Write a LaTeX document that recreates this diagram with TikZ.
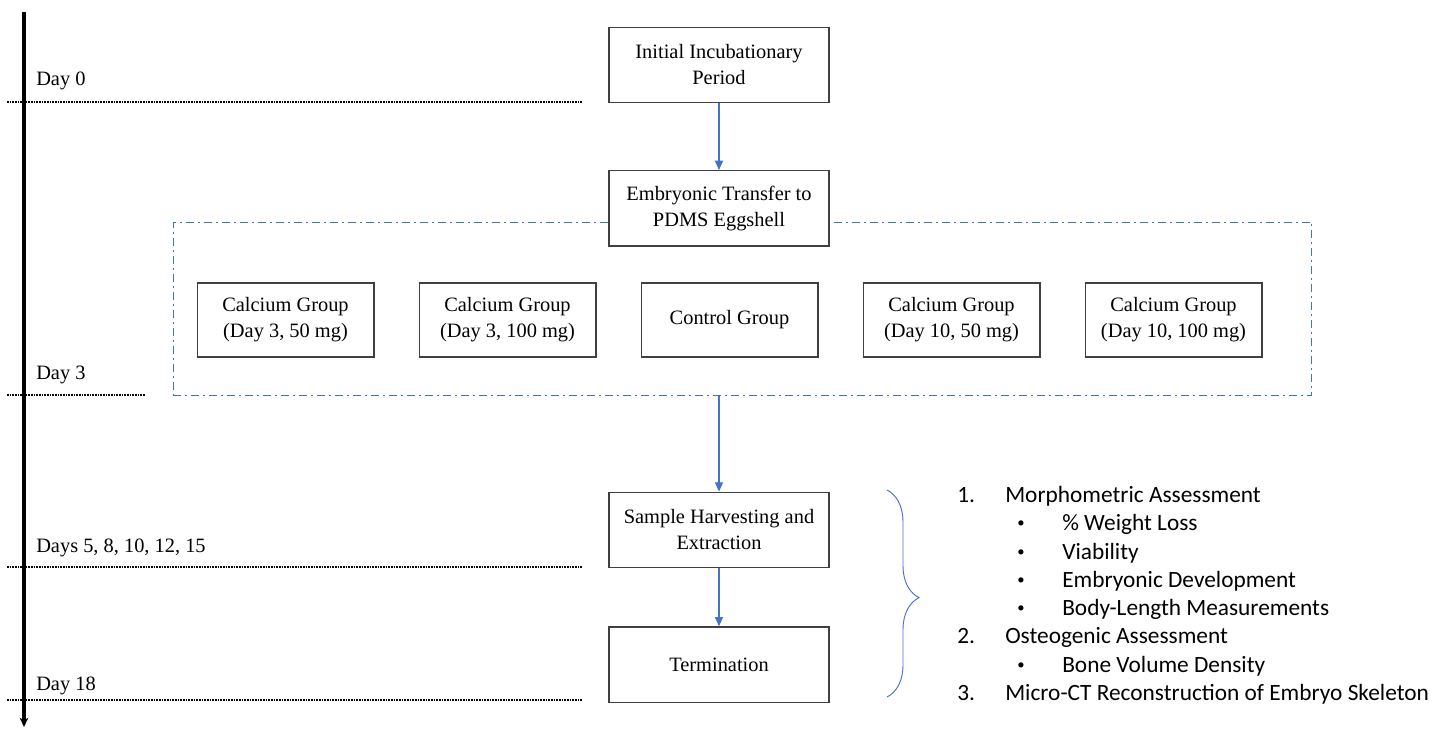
\documentclass[tikz,border=0pt]{standalone}
\usepackage{fontspec}
\setmainfont{Liberation Serif}
\newfontfamily\listfont{Carlito}
\usetikzlibrary{positioning,arrows.meta,decorations.pathreplacing}
\definecolor{flowblue}{HTML}{4472C4}

\begin{document}
\begin{tikzpicture}[x=0.75pt,y=-0.75pt,
	stagebox/.style={draw=black!75,line width=1pt,fill=white,minimum width=165pt,minimum height=56.5pt,align=center,font=\fontsize{15.3}{19.5}\selectfont},
	groupbox/.style={stagebox,minimum width=132.5pt,minimum height=55.5pt},
	grpframe/.style={draw=flowblue,line width=0.7pt,dash pattern=on 6pt off 3pt on 1.5pt off 3pt,minimum width=854pt,minimum height=129.75pt,inner sep=0pt},
	flow/.style={-{Triangle[length=7pt,width=6pt]},flowblue,line width=0.8pt},
	dayline/.style={line width=1.3pt,dash pattern=on 1.2pt off 0.8pt},
	daylabel/.style={anchor=base west,inner sep=0pt,font=\fontsize{15.3}{18}\selectfont},
	listitem/.style={anchor=base west,inner sep=0pt,font=\listfont\fontsize{17.5}{20}\selectfont},
	bulletitem/.style={listitem,font=\listfont\fontsize{11}{12}\selectfont}]
	\useasboundingbox (0,0) rectangle (1432,729);

	% time axis
	\coordinate (axtop) at (24,12);
	\coordinate (axbot) at (24,727);
	\draw[line width=2.6pt,-{Stealth[length=7pt,width=6.5pt]}] (axtop) -- (axbot);
	\foreach \y/\xe in {102/582, 395/145, 567/582, 700/582}
		\draw[dayline] (7,\y) -- (\xe,\y);

	\node[daylabel] (d0)  at (36,85)  {Day 0};
	\node[daylabel] (d3)  at (36,379) {Day 3};
	\node[daylabel] (d5)  at (36,552) {Days 5, 8, 10, 12, 15};
	\node[daylabel] (d18) at (36,690) {Day 18};

	% groups
	\node[grpframe] (frame) at (742.5,308.5) {};
	\node[groupbox] (g1) at (285.5,320) {Calcium Group\\(Day 3, 50 mg)};
	\node[groupbox,right=33pt of g1] (g2) {Calcium Group\\(Day 3, 100 mg)};
	\node[groupbox,right=33pt of g2] (g3) {Control Group};
	\node[groupbox,right=33pt of g3] (g4) {Calcium Group\\(Day 10, 50 mg)};
	\node[groupbox,right=33pt of g4] (g5) {Calcium Group\\(Day 10, 100 mg)};

	% stages
	\node[stagebox] (init) at (719,65) {Initial Incubationary\\Period};
	\node[stagebox,below=50pt of init] (transfer) {Embryonic Transfer to\\PDMS Eggshell};
	\node[stagebox] (harvest) at (719,530) {Sample Harvesting and\\Extraction};
	\node[stagebox,below=43.5pt of harvest] (term) {Termination};

	\draw[flow] (init) -- (transfer);
	\draw[flow] (frame.south -| harvest.north) -- (harvest);
	\draw[flow] (harvest) -- (term);

	% assessments
	\coordinate (brtop) at (887,490);
	\coordinate (brbot) at (887,697);
	\draw[flowblue,line width=0.7pt,decorate,decoration={brace,amplitude=24pt,aspect=0.52}] (brtop) -- (brbot);

	\node[listitem] (n1) at (957,502) {1.};
	\node[listitem] (t1) at (1005,502) {Morphometric Assessment};
	\node[bulletitem] (b1) at (1017,527.5) {•};
	\node[listitem] (s1) at (1062,530.5) {\% Weight Loss};
	\node[bulletitem] (b2) at (1017,556) {•};
	\node[listitem] (s2) at (1062,559) {Viability};
	\node[bulletitem] (b3) at (1017,584) {•};
	\node[listitem] (s3) at (1062,587) {Embryonic Development};
	\node[bulletitem] (b4) at (1017,612.5) {•};
	\node[listitem] (s4) at (1062,615.5) {Body-Length Measurements};
	\node[listitem] (n2) at (957,643.5) {2.};
	\node[listitem] (t2) at (1005,643.5) {Osteogenic Assessment};
	\node[bulletitem] (b5) at (1017,669) {•};
	\node[listitem] (s5) at (1062,672) {Bone Volume Density};
	\node[listitem] (n3) at (957,700) {3.};
	\node[listitem] (t3) at (1005,700) {Micro-CT Reconstruction of Embryo Skeleton};
\end{tikzpicture}
\end{document}
